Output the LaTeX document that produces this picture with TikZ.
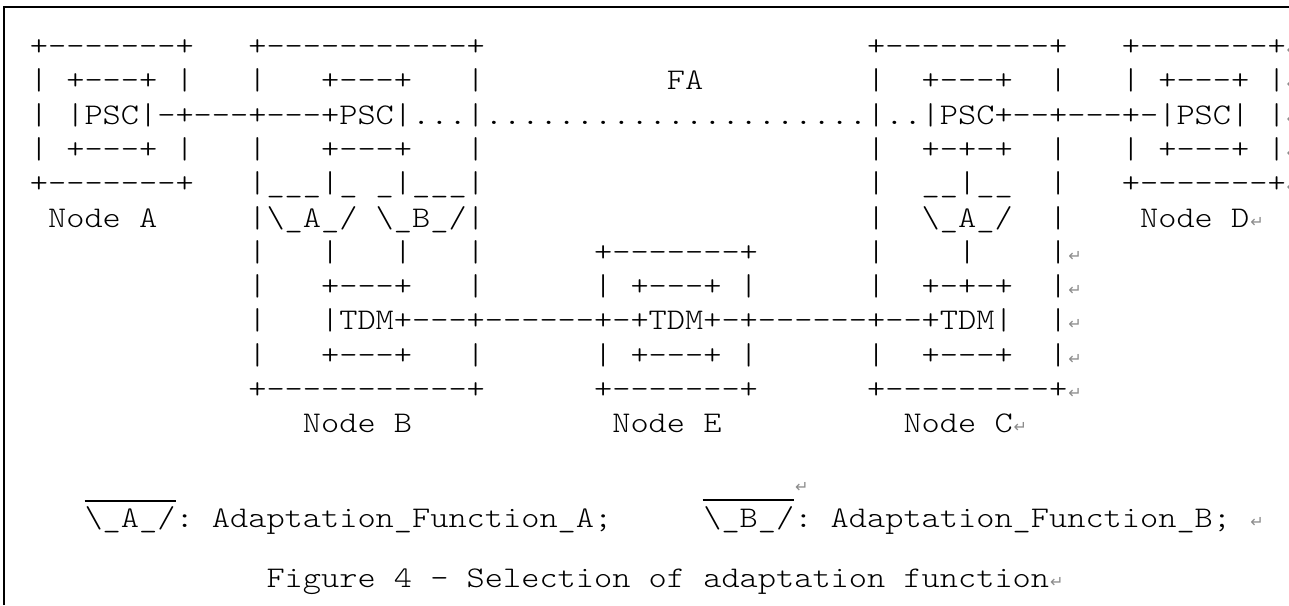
\documentclass[tikz,border=0pt]{standalone}
\usepackage{fontspec}
\setmonofont{lmmonolt10-regular.otf}[FakeStretch=1.15556]
\newfontfamily\pmarkfont{DejaVu Sans}
\tikzset{
  asc/.style={anchor=base west, inner sep=0pt, outer sep=0pt, font=\ttfamily\fontsize{30}{30}\selectfont},
  pm/.style={anchor=base west, inner sep=0pt, outer sep=0pt, text=black!45, font=\pmarkfont\fontsize{16}{16}\selectfont},
  frameline/.style={line width=2pt, black},
  overbar/.style={line width=1.3pt, black}
}
\newcommand\seg[4]{\node[asc] (#1) at ({29.9+18.2*#3},#2) {#4};}
\newcommand\pmk[3]{\node[pm] (#1) at ({29.9+18.2*#3+1},#2) {↵};}
\begin{document}
\begin{tikzpicture}[x=1pt,y=-1pt]
\useasboundingbox (0,0) rectangle (1289,605);
\fill[white] (0,0) rectangle (1289,605);
% frame
\coordinate (fbl) at (4.3,605);
\coordinate (ftl) at (4.3,6.7);
\coordinate (ftr) at (1289,6.7);
\draw[frameline] (fbl) -- (ftl) -- (ftr);
% row 0
\seg{r0a}{55.3}{0}{+-------+}
\seg{r0b}{55.3}{12}{+-----------+}
\seg{r0c}{55.3}{46}{+---------+}
\seg{r0d}{55.3}{60}{+-------+}
\pmk{p0}{55.3}{69}
% row 1
\seg{r1a}{89.6}{0}{|}
\seg{r1b}{89.6}{2}{+---+}
\seg{r1c}{89.6}{8}{|}
\seg{r1d}{89.6}{12}{|}
\seg{r1e}{89.6}{16}{+---+}
\seg{r1f}{89.6}{24}{|}
\seg{fa}{89.6}{35}{FA}
\seg{r1g}{89.6}{46}{|}
\seg{r1h}{89.6}{49}{+---+}
\seg{r1i}{89.6}{56}{|}
\seg{r1j}{89.6}{60}{|}
\seg{r1k}{89.6}{62}{+---+}
\seg{r1l}{89.6}{68}{|}
\pmk{p1}{89.6}{69}
% row 2
\seg{r2a}{124.0}{0}{|}
\seg{r2b}{124.0}{2}{|PSC|-+---+---+PSC|...|.....................|..|PSC+--+---+-|PSC|}
\seg{r2c}{124.0}{68}{|}
\pmk{p2}{124.0}{69}
% row 3
\seg{r3a}{158.3}{0}{|}
\seg{r3b}{158.3}{2}{+---+}
\seg{r3c}{158.3}{8}{|}
\seg{r3d}{158.3}{12}{|}
\seg{r3e}{158.3}{16}{+---+}
\seg{r3f}{158.3}{24}{|}
\seg{r3g}{158.3}{46}{|}
\seg{r3h}{158.3}{49}{+-+-+}
\seg{r3i}{158.3}{56}{|}
\seg{r3j}{158.3}{60}{|}
\seg{r3k}{158.3}{62}{+---+}
\seg{r3l}{158.3}{68}{|}
\pmk{p3}{158.3}{69}
% row 4
\seg{r4a}{192.6}{0}{+-------+}
\seg{r4b}{192.6}{12}{|\_\_\_|\_}
\seg{r4c}{192.6}{19}{\_|\_\_\_|}
\seg{r4d}{192.6}{46}{|}
\seg{r4e}{192.6}{49}{\_\_|\_\_}
\seg{r4f}{192.6}{56}{|}
\seg{r4g}{192.6}{60}{+-------+}
\pmk{p4}{192.6}{69}
% row 5
\seg{nA1}{227.0}{1}{Node}
\seg{nA2}{227.0}{6}{A}
\seg{r5a}{227.0}{12}{|\textbackslash\_A\_/}
\seg{r5b}{227.0}{19}{\textbackslash\_B\_/|}
\seg{r5c}{227.0}{46}{|}
\seg{r5d}{227.0}{49}{\textbackslash\_A\_/}
\seg{r5e}{227.0}{56}{|}
\seg{nD1}{227.0}{61}{Node}
\seg{nD2}{227.0}{66}{D}
\pmk{p5}{227.0}{67}
% row 6
\seg{r6a}{261.3}{12}{|}
\seg{r6b}{261.3}{16}{|}
\seg{r6c}{261.3}{20}{|}
\seg{r6d}{261.3}{24}{|}
\seg{r6e}{261.3}{31}{+-------+}
\seg{r6f}{261.3}{46}{|}
\seg{r6g}{261.3}{51}{|}
\seg{r6h}{261.3}{56}{|}
\pmk{p6}{261.3}{57}
% row 7
\seg{r7a}{295.6}{12}{|}
\seg{r7b}{295.6}{16}{+---+}
\seg{r7c}{295.6}{24}{|}
\seg{r7d}{295.6}{31}{|}
\seg{r7e}{295.6}{33}{+---+}
\seg{r7f}{295.6}{39}{|}
\seg{r7g}{295.6}{46}{|}
\seg{r7h}{295.6}{49}{+-+-+}
\seg{r7i}{295.6}{56}{|}
\pmk{p7}{295.6}{57}
% row 8
\seg{r8a}{329.9}{12}{|}
\seg{r8b}{329.9}{16}{|TDM+---+------+-+TDM+-+------+--+TDM|}
\seg{r8c}{329.9}{56}{|}
\pmk{p8}{329.9}{57}
% row 9
\seg{r9a}{364.3}{12}{|}
\seg{r9b}{364.3}{16}{+---+}
\seg{r9c}{364.3}{24}{|}
\seg{r9d}{364.3}{31}{|}
\seg{r9e}{364.3}{33}{+---+}
\seg{r9f}{364.3}{39}{|}
\seg{r9g}{364.3}{46}{|}
\seg{r9h}{364.3}{49}{+---+}
\seg{r9i}{364.3}{56}{|}
\pmk{p9}{364.3}{57}
% row 10
\seg{r10a}{398.6}{12}{+-----------+}
\seg{r10b}{398.6}{31}{+-------+}
\seg{r10c}{398.6}{46}{+---------+}
\pmk{p10}{398.6}{57}
% row 11
\seg{nB1}{432.9}{15}{Node}
\seg{nB2}{432.9}{20}{B}
\seg{nE1}{432.9}{32}{Node}
\seg{nE2}{432.9}{37}{E}
\seg{nC1}{432.9}{48}{Node}
\seg{nC2}{432.9}{53}{C}
\pmk{p11}{432.9}{54}
% legend
\seg{lgA}{527}{3}{\textbackslash\_A\_/:}
\seg{lgAt}{527}{10}{Adaptation\_Function\_A;}
\seg{lgB}{527}{37}{\textbackslash\_B\_/:}
\seg{lgBt}{527}{44}{Adaptation\_Function\_B;}
\pmk{plg}{527}{67}
\node[pm] (plgb) at (795,492) {↵};
\coordinate (oa1) at (84.5,501);
\coordinate (oa2) at (175.5,501);
\coordinate (ob1) at (702.5,500);
\coordinate (ob2) at (794,500);
\draw[overbar] (oa1) -- (oa2);
\draw[overbar] (ob1) -- (ob2);
% caption
\seg{cp1}{587}{13}{Figure}
\seg{cp2}{587}{20}{4}
\seg{cp3}{587}{22}{-}
\seg{cp4}{587}{24}{Selection}
\seg{cp5}{587}{34}{of}
\seg{cp6}{587}{37}{adaptation}
\seg{cp7}{587}{48}{function}
\pmk{pcp}{587}{56}
\end{tikzpicture}
\end{document}
